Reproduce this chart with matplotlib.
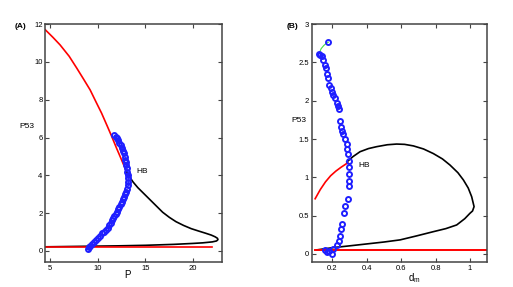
import matplotlib
matplotlib.use("Agg")
import matplotlib.pyplot as plt

plt.rcParams['font.family'] = ['Liberation Sans', 'DejaVu Sans']

# ---- panel A: P53 vs P ----
a_red_hi_x = [4.5, 5.3, 6.05, 7.0, 7.8, 8.5, 9.2, 9.8, 10.4, 11.0, 11.47, 12.0, 12.35, 12.97]
a_red_hi_y = [11.7, 11.3, 10.9, 10.3, 9.67, 9.1, 8.52, 7.9, 7.29, 6.6, 6.05, 5.4, 4.99, 4.25]
a_red_lo_x = [4.5, 22.0]
a_red_lo_y = [0.21, 0.21]
a_black_x = [12.97, 13.3, 13.7, 14.2, 14.7, 15.1, 15.6, 16.2, 16.8, 17.5, 18.2, 19.0, 19.8, 20.6,
             21.3, 21.9, 22.3, 22.55, 22.6, 22.45, 22.0, 21.0, 20.0, 18.0, 15.0, 12.0, 9.0,
             6.0, 4.5]
a_black_y = [4.25, 3.95, 3.65, 3.35, 3.1, 2.9, 2.65, 2.35, 2.05, 1.78, 1.55, 1.35, 1.18, 1.05,
             0.94, 0.84, 0.75, 0.67, 0.6, 0.53, 0.48, 0.43, 0.4, 0.35, 0.3, 0.27, 0.25,
             0.23, 0.22]
a_blue_x = [8.95, 9.1, 9.2, 9.4, 9.58, 9.8, 10.0, 10.2, 10.45, 10.65, 10.87, 11.05, 11.2, 11.35,
            11.5, 11.62, 11.75, 11.88, 12.0, 12.15, 12.27, 12.4, 12.55, 12.68, 12.8, 12.9,
            12.97, 13.05, 13.15, 13.17, 13.15, 13.12, 13.08, 13.03, 12.97, 12.93, 12.9, 12.82,
            12.73, 12.65, 12.55, 12.42, 12.27, 12.15, 12.0, 11.88, 11.75]
a_blue_y = [0.09, 0.2, 0.28, 0.38, 0.49, 0.58, 0.67, 0.8, 0.93, 1.02, 1.11, 1.24, 1.37, 1.5,
            1.64, 1.75, 1.85, 1.97, 2.08, 2.2, 2.34, 2.47, 2.6, 2.73, 2.87, 3.0,
            3.14, 3.3, 3.49, 3.66, 3.84, 4.0, 4.19, 4.37, 4.55, 4.68, 4.81, 4.98,
            5.16, 5.3, 5.43, 5.58, 5.73, 5.85, 5.96, 6.05, 6.13]

# ---- panel B: P53 vs d_m ----
b_red_hi_x = [0.1, 0.13, 0.16, 0.19, 0.22, 0.25, 0.29]
b_red_hi_y = [0.72, 0.84, 0.94, 1.02, 1.08, 1.13, 1.19]
b_red_lo_x = [0.1, 1.1]
b_red_lo_y = [0.055, 0.055]
b_black_x = [0.284, 0.32, 0.361, 0.41, 0.458, 0.52, 0.574, 0.62, 0.671, 0.73, 0.787, 0.84,
             0.884, 0.93, 0.962, 0.99, 1.01, 1.024, 1.015, 1.0, 0.97, 0.923, 0.86, 0.787,
             0.69, 0.594, 0.5, 0.4, 0.3, 0.206, 0.15, 0.109]
b_black_y = [1.2, 1.27, 1.334, 1.375, 1.4, 1.425, 1.434, 1.43, 1.41, 1.37, 1.31, 1.24,
             1.16, 1.06, 0.965, 0.86, 0.747, 0.617, 0.56, 0.53, 0.46, 0.378, 0.33, 0.29,
             0.235, 0.183, 0.155, 0.13, 0.105, 0.082, 0.065, 0.052]
b_blue_x = [0.177, 0.124, 0.13, 0.138, 0.148, 0.156, 0.162, 0.167, 0.173, 0.183, 0.191, 0.197,
            0.206, 0.216, 0.226, 0.235, 0.241, 0.245, 0.249, 0.255, 0.264, 0.274, 0.284, 0.287,
            0.293, 0.299, 0.299, 0.299, 0.299, 0.297, 0.291, 0.274, 0.268, 0.255, 0.249, 0.245,
            0.241, 0.226, 0.206, 0.183, 0.167, 0.197, 0.16]
b_blue_y = [2.765, 2.61, 2.6, 2.58, 2.53, 2.47, 2.43, 2.35, 2.3, 2.21, 2.17, 2.11,
            2.07, 2.03, 1.97, 1.93, 1.89, 1.73, 1.66, 1.61, 1.56, 1.5, 1.43, 1.37,
            1.3, 1.21, 1.13, 1.04, 0.95, 0.89, 0.715, 0.63, 0.54, 0.39, 0.32, 0.24,
            0.17, 0.11, 0.065, 0.043, 0.03, 0.0, 0.05]
b_green_x = [0.124, 0.135, 0.15, 0.165, 0.177]
b_green_y = [2.62, 2.68, 2.72, 2.75, 2.765]

fig = plt.figure(figsize=(5.13, 2.87), dpi=100)
axA = fig.add_axes([0.0883, 0.086, 0.344, 0.830])
axB = fig.add_axes([0.6076, 0.086, 0.342, 0.830])

blue_kw = dict(linestyle="none", marker="o", markersize=3.6, markerfacecolor="none",
               markeredgecolor="#1f1fff", markeredgewidth=1.4)

axA.plot(a_black_x, a_black_y, color="black", lw=1.2)
axA.plot(a_red_hi_x, a_red_hi_y, color="red", lw=1.2)
axA.plot(a_red_lo_x, a_red_lo_y, color="red", lw=1.2)
axA.plot(a_blue_x, a_blue_y, **blue_kw)
axA.set_xlim(4.5, 23)
axA.set_ylim(-0.6, 12)
axA.set_xticks([5, 10, 15, 20])
axA.set_yticks([0, 2, 4, 6, 8, 10, 12])
axA.text(14.1, 4.2, "HB", fontsize=6, va="center", ha="left")
axA.text(-0.138, 0.99, "(A)", transform=axA.transAxes, fontsize=6, ha="center", va="center",
         fontweight="bold")
axA.text(-0.104, 0.572, "P53", transform=axA.transAxes, fontsize=6, ha="center", va="center")
axA.text(0.463, -0.053, "P", transform=axA.transAxes, fontsize=7, ha="center", va="center")

axB.plot(b_black_x, b_black_y, color="black", lw=1.2)
axB.plot(b_red_hi_x, b_red_hi_y, color="red", lw=1.2)
axB.plot(b_red_lo_x, b_red_lo_y, color="red", lw=1.4)
axB.plot(b_green_x, b_green_y, color="#44dd44", lw=0.8)
axB.plot(b_blue_x, b_blue_y, **blue_kw)
axB.set_xlim(0.08, 1.1)
axB.set_ylim(-0.11, 3)
axB.set_xticks([0.2, 0.4, 0.6, 0.8, 1.0])
axB.set_xticklabels(["0.2", "0.4", "0.6", "0.8", "1"])
axB.set_yticks([0, 0.5, 1, 1.5, 2, 2.5, 3])
axB.set_yticklabels(["0", "0.5", "1", "1.5", "2", "2.5", "3"])
axB.text(0.349, 1.16, "HB", fontsize=6, va="center", ha="left")
axB.text(-0.112, 0.99, "(B)", transform=axB.transAxes, fontsize=6, ha="center", va="center",
         fontweight="bold")
axB.text(-0.075, 0.597, "P53", transform=axB.transAxes, fontsize=6, ha="center", va="center")
axB.text(0.583, -0.065, "$\\mathregular{d_m}$", transform=axB.transAxes, fontsize=7,
         ha="center", va="center")

for ax in (axA, axB):
    for s in ax.spines.values():
        s.set_color("#444444")
        s.set_linewidth(1.1)
    ax.tick_params(direction="in", length=3, width=0.8, top=True, right=True,
                   labelsize=5.5, pad=2, colors="#444444", labelcolor="black")

fig.savefig("out.png", dpi=100)
